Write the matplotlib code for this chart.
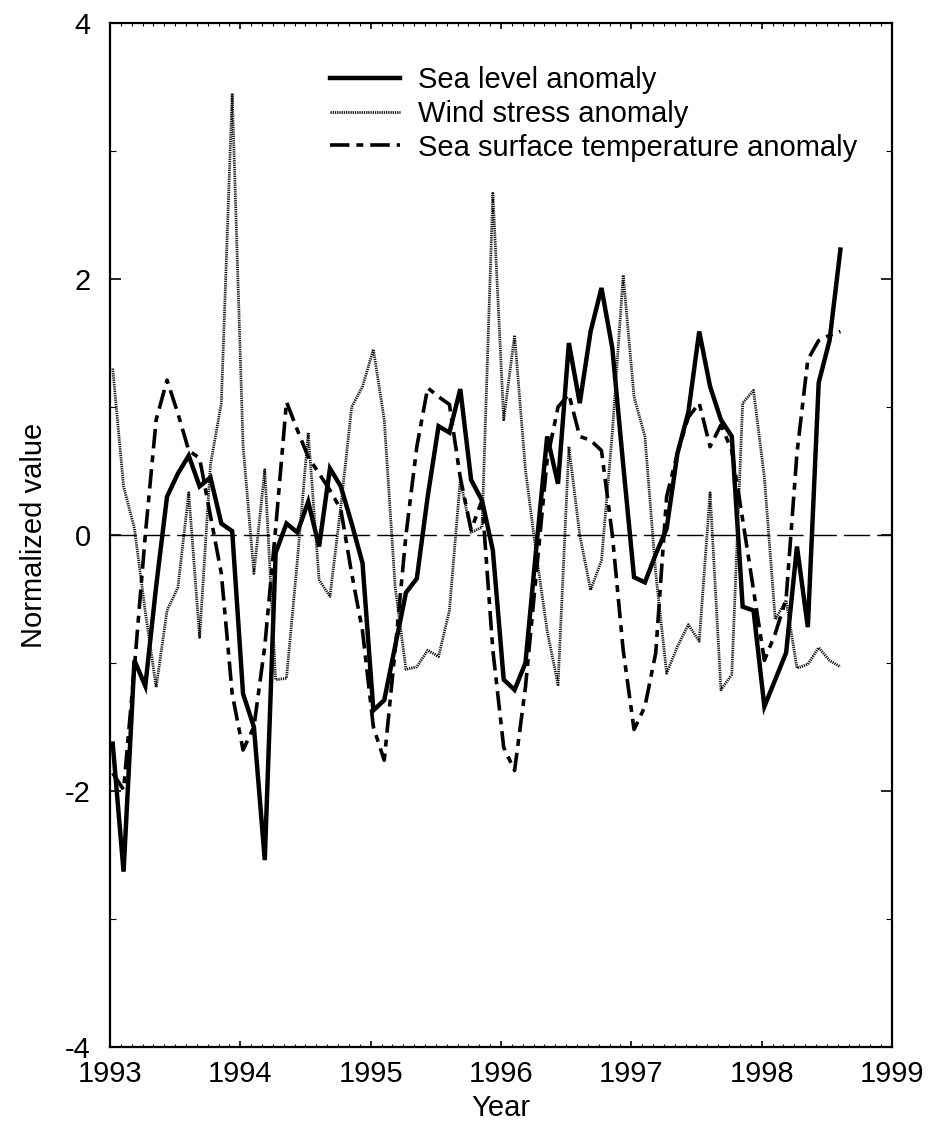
import numpy as np
import matplotlib
matplotlib.use("Agg")
import matplotlib.pyplot as plt
from matplotlib.ticker import MultipleLocator, FixedLocator

plt.rcParams['font.family'] = ['Liberation Sans', 'DejaVu Sans']
plt.rcParams['lines.scale_dashes'] = False

# Monthly samples, January 1993 - August 1998
n_months = 68
start_year = 1993

sea_level = [-1.63, -2.63, -0.98, -1.18, -0.40, 0.30, 0.48, 0.62, 0.38, 0.45,
             0.09, 0.03, -1.24, -1.50, -2.54, -0.14, 0.09, 0.02, 0.26, -0.09,
             0.52, 0.38, 0.09, -0.22, -1.37, -1.29, -0.87, -0.45, -0.34, 0.30,
             0.85, 0.80, 1.14, 0.43, 0.27, -0.12, -1.13, -1.21, -1.00, -0.10,
             0.77, 0.40, 1.50, 1.03, 1.59, 1.93, 1.46, 0.55, -0.33, -0.37,
             -0.15, 0.05, 0.64, 0.96, 1.59, 1.16, 0.90, 0.77, -0.56, -0.59,
             -1.34, -1.13, -0.92, -0.09, -0.72, 1.19, 1.52, 2.23]

wind_stress = [1.30, 0.38, 0.05, -0.60, -1.19, -0.59, -0.41, 0.33, -0.80, 0.55,
               1.03, 3.45, 0.70, -0.30, 0.51, -1.13, -1.12, -0.20, 0.80, -0.35,
               -0.48, 0.22, 1.00, 1.16, 1.45, 0.90, -0.40, -1.05, -1.03, -0.90,
               -0.95, -0.59, 0.43, 0.02, 0.06, 2.67, 0.90, 1.56, 0.51, -0.15,
               -0.75, -1.17, 0.69, 0.00, -0.43, -0.20, 0.80, 2.03, 1.08, 0.77,
               -0.30, -1.08, -0.87, -0.70, -0.83, 0.33, -1.21, -1.09, 1.03, 1.13,
               0.45, -0.66, -0.51, -1.04, -1.01, -0.88, -0.98, -1.03]

sst = [-1.86, -1.99, -1.03, 0.00, 0.90, 1.21, 0.95, 0.66, 0.60, 0.15,
       -0.30, -1.24, -1.68, -1.50, -0.87, 0.05, 1.04, 0.82, 0.61, 0.48,
       0.35, 0.20, -0.30, -0.75, -1.50, -1.76, -0.90, 0.00, 0.69, 1.15,
       1.08, 1.02, 0.45, 0.04, 0.27, -0.90, -1.66, -1.84, -1.19, -0.30,
       0.59, 1.00, 1.10, 0.77, 0.74, 0.66, 0.00, -0.90, -1.52, -1.34,
       -0.92, 0.30, 0.64, 0.92, 1.03, 0.69, 0.86, 0.66, 0.12, -0.43,
       -0.98, -0.77, -0.50, 0.64, 1.37, 1.52, 1.56, 1.59]

labels = ["Sea level anomaly", "Wind stress anomaly",
          "Sea surface temperature anomaly"]
year_ticks = [1993, 1994, 1995, 1996, 1997, 1998, 1999]
y_ticks = [-4, -2, 0, 2, 4]

t = start_year + (np.arange(n_months) + 0.25) / 12.0

W, H = 931, 1127
FS = 21
fig = plt.figure(figsize=(W / 100, H / 100), dpi=100)
ax = fig.add_axes([110 / W, 1 - 1047 / H, (892 - 110) / W, (1047 - 23) / H])

ax.plot(t, sea_level, color='black', lw=3.2, solid_joinstyle='miter',
        label=labels[0])
ax.plot(t, wind_stress, color='#111111', lw=2.0, linestyle=(0, (0.9, 0.7)),
        label=labels[1])
ax.plot(t, sst, color='black', lw=2.6, linestyle=(0, (14, 5, 5, 5)),
        label=labels[2])
ax.axhline(0, color='black', lw=1.0, linestyle=(0, (19, 5)), zorder=0)

ax.set_xlim(1993, 1999)
ax.set_ylim(-4, 4)
ax.xaxis.set_major_locator(FixedLocator(year_ticks))
ax.xaxis.set_minor_locator(MultipleLocator(1 / 12))
ax.yaxis.set_major_locator(FixedLocator(y_ticks))
ax.yaxis.set_minor_locator(MultipleLocator(1))
ax.set_xticklabels([str(y) for y in year_ticks])
ax.set_yticklabels([str(v) for v in y_ticks])

ax.tick_params(axis='both', which='both', direction='in', top=True,
               right=True, labelsize=FS, colors='black')
ax.tick_params(axis='x', which='major', length=4, width=1.2, pad=9)
ax.tick_params(axis='x', which='minor', length=2, width=0.8)
ax.tick_params(axis='y', which='major', length=8, width=1.2, pad=14)
ax.tick_params(axis='y', which='minor', length=4, width=0.8)
for s in ax.spines.values():
    s.set_linewidth(1.6)

ax.set_xlabel("Year", fontsize=FS, labelpad=5)
ax.set_ylabel("Normalized value", fontsize=FS, labelpad=12)

ax.legend(loc='upper left', bbox_to_anchor=(330 / W, 1 - 66 / H),
          bbox_transform=fig.transFigure, frameon=False, fontsize=FS,
          handlelength=2.4, handletextpad=0.62, labelspacing=0.2,
          borderpad=0, borderaxespad=0)

fig.savefig("out.png", dpi=100)
